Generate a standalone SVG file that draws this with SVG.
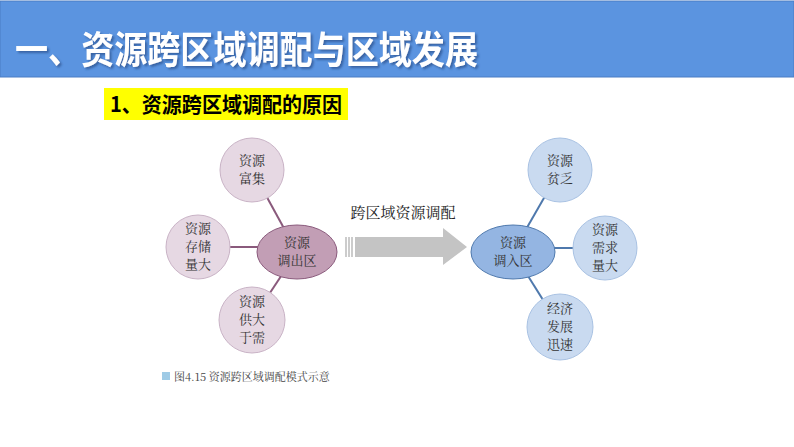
<svg xmlns="http://www.w3.org/2000/svg" width="794" height="447" viewBox="0 0 794 447">
<defs>
<style>
.t{font-family:"Noto Sans CJK SC","Noto Sans",sans-serif}
.s{font-family:"Noto Serif CJK SC","Noto Sans CJK SC",serif;font-size:13px;fill:#333;text-anchor:middle}
.pc{fill:#e6d8e3;stroke:#c9b3c6;stroke-width:1}
.bc{fill:#c9daf0;stroke:#a9c2e3;stroke-width:1}
.pl{stroke:#8a5a7c;stroke-width:2}
.bl{stroke:#4f79ad;stroke-width:2}
</style>
<filter id="sh"><feDropShadow dx="2" dy="2" stdDeviation="1" flood-color="#2a4f8a" flood-opacity="0.7"/></filter>
</defs>
<rect width="794" height="447" fill="#fff"/>
<rect x="0" y="1" width="794" height="76" fill="#5b94e0" stroke="#4a7cc4"/>
<text class="t" x="15" y="63" font-size="38" font-weight="bold" fill="#fff" filter="url(#sh)" textLength="463" lengthAdjust="spacingAndGlyphs">一、资源跨区域调配与区域发展</text>
<rect x="104" y="88" width="244" height="32" fill="#ffff00"/>
<text class="t" x="110" y="112" font-size="21" font-weight="bold" fill="#000" textLength="232" lengthAdjust="spacingAndGlyphs">1、资源跨区域调配的原因</text>
<g id="connectors">
<line class="pl" x1="252" y1="170" x2="297" y2="252"/>
<line class="pl" x1="198" y1="247" x2="297" y2="247"/>
<line class="pl" x1="252" y1="320" x2="297" y2="252"/>
<line class="bl" x1="560" y1="170" x2="513" y2="252"/>
<line class="bl" x1="605" y1="248" x2="513" y2="248"/>
<line class="bl" x1="560" y1="327" x2="513" y2="252"/>
<g id="arrow">
<rect x="345" y="237" width="2" height="20" fill="#ccc"/>
<rect x="348" y="237" width="2" height="20" fill="#ccc"/>
<rect x="351" y="237" width="2" height="20" fill="#ccc"/>
<polygon points="355,237 443,237 443,228 467,247 443,265 443,257 355,257" fill="#c4c4c4"/>
</g>
<text x="403" y="218" font-size="15" fill="#222" text-anchor="middle" style="font-family:'Noto Serif CJK SC','Noto Sans CJK SC',serif">跨区域资源调配</text>
</g>
<g id="n1"><circle class="pc" cx="252" cy="170" r="32"/><text class="s" x="252" y="165">资源</text><text class="s" x="252" y="183">富集</text></g>
<g id="n2"><circle class="pc" cx="198" cy="247" r="32"/><text class="s" x="198" y="233">资源</text><text class="s" x="198" y="251">存储</text><text class="s" x="198" y="269">量大</text></g>
<g id="n3"><circle class="pc" cx="252" cy="320" r="33"/><text class="s" x="252" y="306">资源</text><text class="s" x="252" y="324">供大</text><text class="s" x="252" y="342">于需</text></g>
<g id="n4"><ellipse cx="297" cy="252" rx="40" ry="27" fill="#c29eb5" stroke="#8a5a7c"/><text class="s" x="297" y="247">资源</text><text class="s" x="297" y="265">调出区</text></g>
<g id="n5"><ellipse cx="513" cy="252" rx="42" ry="27" fill="#94b5e2" stroke="#4f79ad"/><text class="s" x="513" y="247">资源</text><text class="s" x="513" y="265">调入区</text></g>
<g id="n6"><circle class="bc" cx="560" cy="170" r="32"/><text class="s" x="560" y="165">资源</text><text class="s" x="560" y="183">贫乏</text></g>
<g id="n7"><circle class="bc" cx="605" cy="248" r="32"/><text class="s" x="605" y="234">资源</text><text class="s" x="605" y="252">需求</text><text class="s" x="605" y="270">量大</text></g>
<g id="n8"><circle class="bc" cx="560" cy="327" r="33"/><text class="s" x="560" y="313">经济</text><text class="s" x="560" y="331">发展</text><text class="s" x="560" y="349">迅速</text></g>
<rect x="162" y="372" width="8" height="8" fill="#9fcbe6"/>
<text x="174" y="381" font-size="11" fill="#444" style="font-family:'Noto Serif CJK SC','Noto Sans CJK SC',serif">图4.15  资源跨区域调配模式示意</text>
</svg>
